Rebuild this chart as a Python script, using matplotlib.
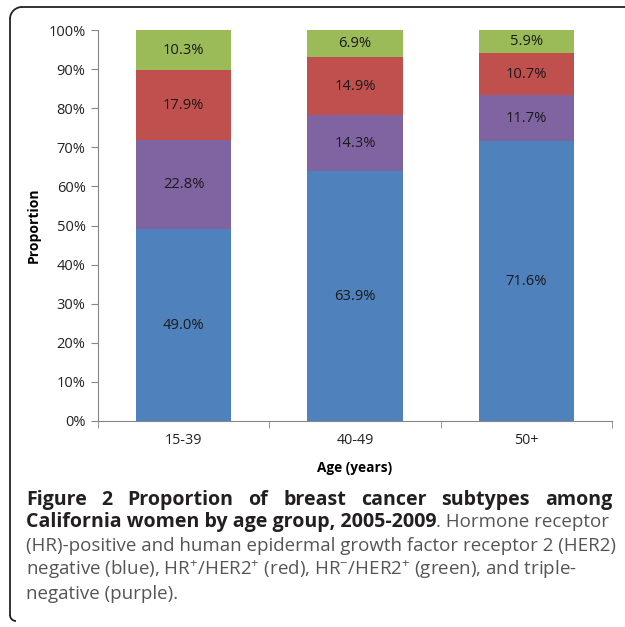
import numpy as np
import matplotlib
matplotlib.use('Agg')
import matplotlib.pyplot as plt
from matplotlib.lines import Line2D
from matplotlib.patches import Arc

plt.rcParams['font.family'] = ['Open Sans', 'DejaVu Sans']
plt.rcParams['mathtext.default'] = 'regular'

# data (percent)
groups = ['15-39', '40-49', '50+']
hr_pos_her2_neg = [49.0, 63.9, 71.6]   # blue
triple_neg = [22.8, 14.3, 11.7]        # purple
hr_pos_her2_pos = [17.9, 14.9, 10.7]   # red
hr_neg_her2_pos = [10.3, 6.9, 5.9]     # green

series = [hr_pos_her2_neg, triple_neg, hr_pos_her2_pos, hr_neg_her2_pos]
colors = ['#4F81BD', '#8064A2', '#C0504D', '#9BBB59']

fig = plt.figure(figsize=(6.25, 6.27), dpi=100)
ax = fig.add_axes([98/625, 1 - 421/627, (612 - 98)/625, (421 - 30)/627])

x = np.arange(len(groups))
bottom = np.zeros(len(groups))
for vals, c in zip(series, colors):
    vals = np.array(vals)
    ax.bar(x, vals, 0.555, bottom=bottom, color=c)
    for xi, b, v in zip(x, bottom, vals):
        ax.text(xi, b + v / 2, f'{v:.1f}%', ha='center', va='center',
                fontsize=10.6, color='#1a1a1a')
    bottom += vals

ax.set_xlim(-0.5, 2.5)
ax.set_ylim(0, 100)
ax.set_yticks(np.arange(0, 101, 10))
ax.set_yticklabels([f'{t}%' for t in range(0, 101, 10)], fontsize=10.5, color='#222222')
ax.set_xticks(x)
ax.set_xticklabels(groups, fontsize=10.3, color='#222222')
ax.set_xticks([-0.5, 0.5, 1.5, 2.5], minor=True)
ax.tick_params(axis='x', which='major', length=0, pad=9)
ax.tick_params(axis='x', which='minor', length=5, color='#868686')
ax.tick_params(axis='y', length=5, color='#868686', pad=4)
for s in ['top', 'right']:
    ax.spines[s].set_visible(False)
for s in ['left', 'bottom']:
    ax.spines[s].set_color('#868686')
ax.set_xlabel('Age (years)', fontsize=9.8, fontweight='bold', labelpad=9)
ax.set_ylabel('Proportion', fontsize=10, fontweight='bold', labelpad=5.5)

# frame border (top-left rounded corner)
W, H = 625, 627
def fx(px):
    return px / W
def fy(py):
    return 1 - py / H
r = 12
fig.add_artist(Line2D([fx(10 + r), fx(625)], [fy(7), fy(7)], color='#222222', lw=1.3))
fig.add_artist(Line2D([fx(10), fx(10)], [fy(7 + r), fy(615)], color='#222222', lw=1.3))
fig.add_artist(Arc((fx(10 + r), fy(7 + r)), 2 * r / W, 2 * r / H, theta1=90, theta2=180,
                   color='#222222', lw=1.3, transform=fig.transFigure))
fig.add_artist(Arc((fx(10 + 6), fy(615)), 12 / W, 12 / H, theta1=180, theta2=270,
                   color='#222222', lw=1.3, transform=fig.transFigure))

# caption
dark = '#231f20'
gray = '#555555'
x0, x1 = 26, 612
line3 = '(HR)-positive and human epidermal growth factor receptor 2 (HER2)'
fig.canvas.draw()
renderer = fig.canvas.get_renderer()

def text_width(s, size, weight='normal'):
    t = fig.text(0, 0, s, fontsize=size, fontweight=weight)
    w = t.get_window_extent(renderer).width
    t.remove()
    return w

# fit regular caption size so line 3 spans the caption width
fs = 12 * (x1 - x0) / text_width(line3, 12)
fs_b = 12 * 410 / text_width('California women by age group, 2005-2009', 12, 'bold')

line1 = 'Figure 2 Proportion of breast cancer subtypes among'.split()
widths = [text_width(w, fs_b, 'bold') for w in line1]
gap = (x1 - x0 - sum(widths)) / (len(line1) - 1)
pos = x0
for w, wd in zip(line1, widths):
    fig.text(fx(pos), fy(500), w, fontsize=fs_b, fontweight='bold', color=dark, va='center')
    pos += wd + gap

tb = fig.text(fx(x0), fy(522), 'California women by age group, 2005-2009',
              fontsize=fs_b, fontweight='bold', color=dark, va='center')
bw = tb.get_window_extent(renderer).width
fig.text(fx(x0 + bw), fy(522), '. Hormone receptor', fontsize=fs, color=gray, va='center')
fig.text(fx(x0), fy(546), line3, fontsize=fs, color=gray, va='center')
fig.text(fx(x0), fy(570),
         r'negative (blue), HR$^{+}$/HER2$^{+}$ (red), HR$^{-}$/HER2$^{+}$ (green), and triple-',
         fontsize=fs, color=gray, va='center')
fig.text(fx(x0), fy(594), 'negative (purple).', fontsize=fs, color=gray, va='center')

fig.savefig('out.png', dpi=100)
